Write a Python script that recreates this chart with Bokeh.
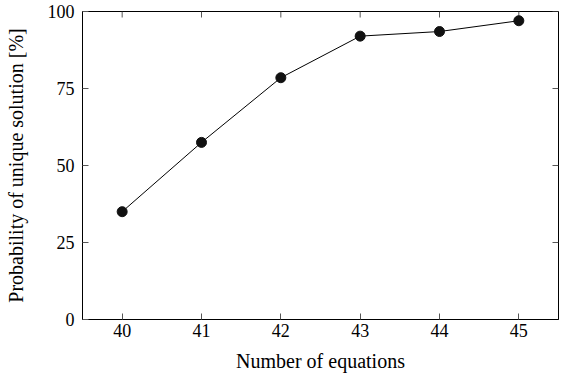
import math
from bokeh.plotting import figure
from bokeh.models import FixedTicker, Range1d
from bokeh.embed import file_html
from bokeh.resources import INLINE

equations = [40, 41, 42, 43, 44, 45]
probability = [35.0, 57.5, 78.5, 92.0, 93.5, 97.0]
x_ticks = [40, 41, 42, 43, 44, 45]
y_ticks = [0, 25, 50, 75, 100]
x_lim = (39.5, 45.5)
y_lim = (0, 100)

FONT = "Liberation Serif"
TICK = "#555555"

p = figure(width=566, height=374, output_backend="svg", toolbar_location=None,
           x_range=Range1d(*x_lim), y_range=Range1d(*y_lim),
           min_border_left=82, min_border_right=8, min_border_top=11, min_border_bottom=55)
p.grid.visible = False
p.outline_line_color = "black"
p.outline_line_width = 1
p.background_fill_color = "white"
p.border_fill_color = "white"

# mirrored ticks on the top and right edges (pgfplots style)
p.ray(x=x_ticks, y=[y_lim[1]] * len(x_ticks), angle=-math.pi / 2, length=6,
      length_units="screen", line_color=TICK, line_width=1)
p.ray(x=[x_lim[1]] * len(y_ticks), y=y_ticks, angle=math.pi, length=6,
      length_units="screen", line_color=TICK, line_width=1)

p.line(equations, probability, line_color="black", line_width=1)
p.scatter(equations, probability, size=10, fill_color="#111111", line_color="#111111")

for ax in (p.xaxis[0], p.yaxis[0]):
    ax.major_tick_in = 6
    ax.major_tick_out = 0
    ax.minor_tick_line_color = None
    ax.axis_line_color = "black"
    ax.major_tick_line_color = TICK
    ax.major_label_text_font = FONT
    ax.major_label_text_font_size = "18px"
    ax.major_label_text_color = "black"
    ax.axis_label_text_font = FONT
    ax.axis_label_text_font_size = "20px"
    ax.axis_label_text_font_style = "normal"
    ax.axis_label_text_color = "black"

p.xaxis[0].ticker = FixedTicker(ticks=x_ticks)
p.yaxis[0].ticker = FixedTicker(ticks=y_ticks)
p.xaxis[0].axis_label = "Number of equations"
p.yaxis[0].axis_label = "Probability of unique solution [%]"
p.xaxis[0].major_label_standoff = 4
p.xaxis[0].axis_label_standoff = 10
p.yaxis[0].major_label_standoff = 8
p.yaxis[0].axis_label_standoff = 18

open("out.html", "w").write(file_html(p, INLINE))
